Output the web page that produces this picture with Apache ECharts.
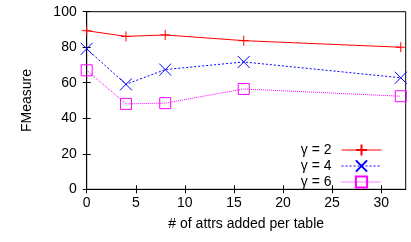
<!DOCTYPE html>
<html><head><meta charset="utf-8">
<script src="https://cdn.jsdelivr.net/npm/echarts@6/dist/echarts.min.js"></script>
<style>html,body{margin:0;padding:0;background:#fff}#c{width:411px;height:242px}</style>
</head><body><div id="c"></div>
<script>
const xValues = [0, 4, 8, 16, 32];
const gamma2 = [89.3, 86.1, 86.9, 83.7, 80.0];
const gamma4 = [79.1, 59.1, 67.4, 71.7, 62.8];
const gamma6 = [67.0, 48.1, 48.5, 56.5, 52.4];
const seriesNames = ['γ = 2', 'γ = 4', 'γ = 6'];
const xTicks = [0, 5, 10, 15, 20, 25, 30];
const yTicks = [0, 20, 40, 60, 80, 100];

const font = 'Liberation Sans, Arial, sans-serif';
const plusPath = 'path://M0,5 L10,5 M5,0 L5,10';
const crossPath = 'path://M0,0 L10,10 M10,0 L0,10';
const squarePath = 'path://M0,0 L10,0 L10,10 L0,10 Z';

function pts(ys) { return xValues.map((x, i) => [x, ys[i]]); }

const chart = echarts.init(document.getElementById('c'), null, {renderer: 'canvas'});
chart.setOption({
  animation: false,
  textStyle: {fontFamily: font},
  grid: {left: 86.7, right: 5.3, top: 11.7, bottom: 52.7, show: true, borderColor: '#000', borderWidth: 1},
  legend: {
    orient: 'vertical', right: 24, top: 138, align: 'right',
    itemWidth: 40, itemHeight: 14, itemGap: 2,
    lineStyle: {width: 1},
    textStyle: {fontFamily: font, fontSize: 14, color: '#000', padding: [0, 5, 0, 0]},
    data: seriesNames
  },
  xAxis: [{
    type: 'value', min: 0, max: 32.5, position: 'bottom',
    name: '# of attrs added per table', nameLocation: 'middle', nameGap: 28,
    nameTextStyle: {fontFamily: font, fontSize: 14, color: '#000'},
    axisLine: {show: true, lineStyle: {color: '#000'}},
    axisTick: {show: true, inside: true, length: 4, customValues: xTicks, lineStyle: {color: '#000'}},
    axisLabel: {customValues: xTicks, margin: 7, fontFamily: font, fontSize: 14, color: '#000'},
    splitLine: {show: false}
  }, {
    type: 'value', min: 0, max: 32.5, position: 'top',
    axisLine: {show: false},
    axisTick: {show: true, inside: true, length: 4, customValues: xTicks, lineStyle: {color: '#000'}},
    axisLabel: {show: false}, splitLine: {show: false}
  }],
  yAxis: [{
    type: 'value', min: 0, max: 100, interval: 20, position: 'left',
    name: 'FMeasure', nameLocation: 'middle', nameGap: 53,
    nameTextStyle: {fontFamily: font, fontSize: 14, color: '#000'},
    axisLine: {show: true, lineStyle: {color: '#000'}},
    axisTick: {show: true, inside: true, length: 4, lineStyle: {color: '#000'}},
    axisLabel: {margin: 10, fontFamily: font, fontSize: 14, color: '#000'},
    splitLine: {show: false}
  }, {
    type: 'value', min: 0, max: 100, interval: 20, position: 'right',
    axisLine: {show: false},
    axisTick: {show: true, inside: true, length: 4, lineStyle: {color: '#000'}},
    axisLabel: {show: false}, splitLine: {show: false}
  }],
  series: [{
    name: seriesNames[0], type: 'line', data: pts(gamma2),
    symbol: plusPath, symbolSize: 10,
    lineStyle: {color: '#ff0000', width: 1},
    itemStyle: {color: 'rgba(0,0,0,0)', borderColor: '#ff0000', borderWidth: 1}
  }, {
    name: seriesNames[1], type: 'line', data: pts(gamma4),
    symbol: crossPath, symbolSize: 12,
    lineStyle: {color: '#0000ff', width: 1, type: [2, 2]},
    itemStyle: {color: 'rgba(0,0,0,0)', borderColor: '#0000ff', borderWidth: 1}
  }, {
    name: seriesNames[2], type: 'line', data: pts(gamma6),
    symbol: squarePath, symbolSize: 11,
    lineStyle: {color: '#ff00ff', width: 1, type: [1, 1]},
    itemStyle: {color: 'rgba(0,0,0,0)', borderColor: '#ff00ff', borderWidth: 1}
  }]
});
</script></body></html>
